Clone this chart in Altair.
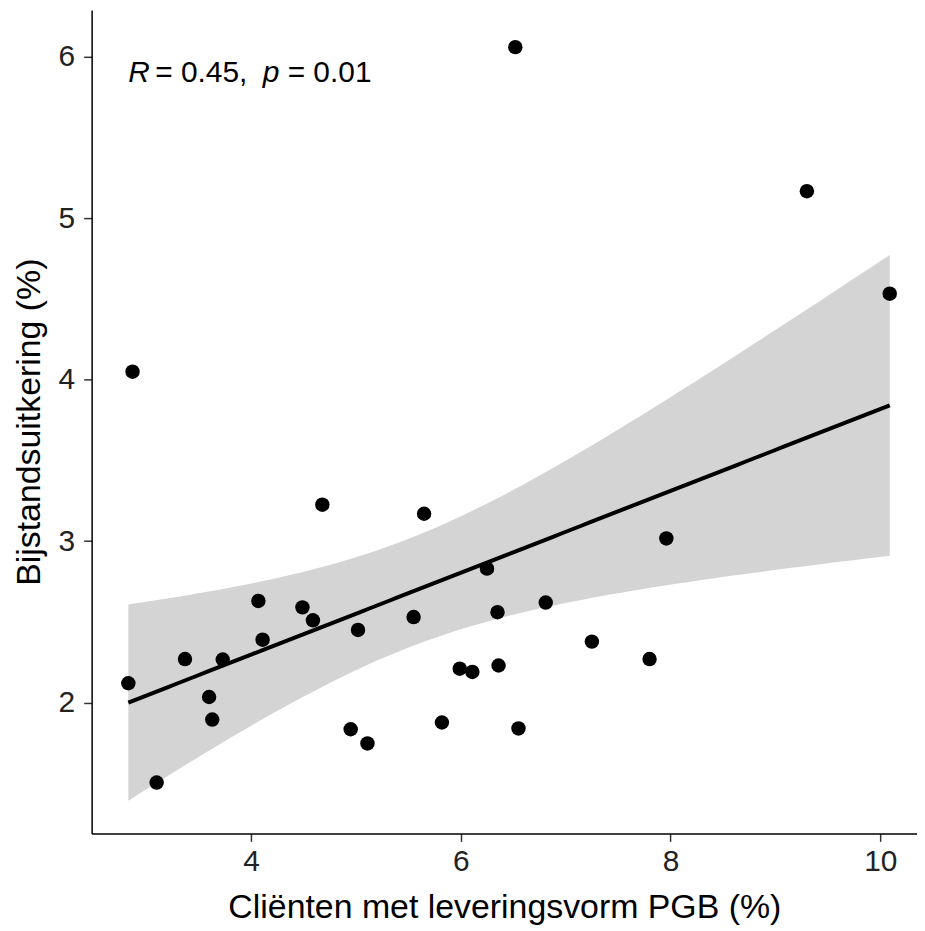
import altair as alt
import numpy as np
import pandas as pd

# data
x_vals = [2.83, 2.87, 3.10, 3.37, 3.60, 3.63, 3.73, 4.07, 4.11, 4.49, 4.59, 4.68,
          4.95, 5.02, 5.11, 5.55, 5.65, 5.82, 5.99, 6.11, 6.25, 6.35, 6.36, 6.52,
          6.55, 6.81, 7.25, 7.80, 7.96, 9.30, 10.09]
y_vals = [2.12, 4.05, 1.505, 2.27, 2.035, 1.895, 2.267, 2.63, 2.39, 2.59, 2.51, 3.226,
          1.835, 2.45, 1.747, 2.53, 3.17, 1.877, 2.21, 2.19, 2.83, 2.56, 2.23, 6.06,
          1.84, 2.62, 2.378, 2.27, 3.017, 5.168, 4.533]
x_ticks = [4, 6, 8, 10]
y_ticks = [2, 3, 4, 5, 6]
ann_parts = ["R", "= 0.45,", "p", "= 0.01"]
ann_italic = [True, False, True, False]

df = pd.DataFrame({"x": x_vals, "y": y_vals})

# linear fit with 95% confidence band (as geom_smooth(method = "lm"))
X = np.array(x_vals)
Y = np.array(y_vals)
n = len(X)
b, a = np.polyfit(X, Y, 1)
resid = Y - (a + b * X)
s = np.sqrt((resid ** 2).sum() / (n - 2))
sxx = ((X - X.mean()) ** 2).sum()
grid = np.linspace(X.min(), X.max(), 80)
fit = a + b * grid
se = s * np.sqrt(1 / n + (grid - X.mean()) ** 2 / sxx)
t_q = 2.045  # t(0.975, df = 29)
band = pd.DataFrame({"x": grid, "lo": fit - t_q * se, "hi": fit + t_q * se, "fit": fit})

xscale = alt.Scale(domain=[2.48, 10.35], nice=False, zero=False)
yscale = alt.Scale(domain=[1.19, 6.29], nice=False, zero=False)

area = alt.Chart(band).mark_area(color="#d4d4d4", opacity=1).encode(
    x=alt.X("x:Q", scale=xscale,
            axis=alt.Axis(values=x_ticks, title="Cliënten met leveringsvorm PGB (%)",
                          format="d")),
    y=alt.Y("lo:Q", scale=yscale,
            axis=alt.Axis(values=y_ticks, title="Bijstandsuitkering (%)", format="d")),
    y2="hi:Q",
)
line = alt.Chart(band).mark_line(color="black", strokeWidth=4).encode(
    x=alt.X("x:Q", scale=xscale), y=alt.Y("fit:Q", scale=yscale)
)
pts = alt.Chart(df).mark_circle(color="black", size=210, opacity=1).encode(
    x=alt.X("x:Q", scale=xscale), y=alt.Y("y:Q", scale=yscale)
)

ann_x = min(x_vals)
ann_y = 5.9
offsets = [0, 27, 135, 160]
texts = []
for part, ital, off in zip(ann_parts, ann_italic, offsets):
    tdf = pd.DataFrame({"x": [ann_x], "y": [ann_y], "t": [part]})
    texts.append(
        alt.Chart(tdf).mark_text(
            align="left", baseline="middle", fontSize=30, font="Liberation Sans",
            fontStyle="italic" if ital else "normal", color="black", dx=off,
        ).encode(x=alt.X("x:Q", scale=xscale), y=alt.Y("y:Q", scale=yscale), text="t:N")
    )

chart = alt.layer(area, line, pts, *texts).properties(
    width=829, height=827,
    autosize=alt.AutoSizeParams(type="none"),
    padding={"left": 84, "top": 0, "right": 0, "bottom": 96},
).configure_view(stroke=None).configure_axis(
    grid=False,
    domainColor="black", domainWidth=1.5,
    tickColor="#333333", tickWidth=1.5, tickSize=8,
    labelColor="#222222", labelFont="Liberation Sans", labelFontSize=30,
    titleColor="black", titleFont="Liberation Sans", titleFontSize=34,
    titleFontWeight="normal",
).configure_axisX(titlePadding=14, labelPadding=5).configure_axisY(
    titlePadding=12, labelPadding=9)

chart.save("out.html", embed_options={"renderer": "svg", "actions": False})
